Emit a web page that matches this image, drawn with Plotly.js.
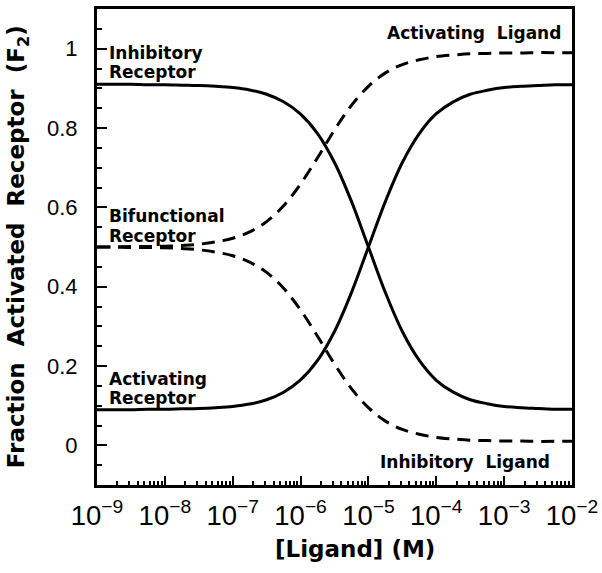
<!DOCTYPE html>
<html>
<head>
<meta charset="utf-8">
<script src="https://cdn.plot.ly/plotly-3.0.1.min.js"></script>
<style>html,body{margin:0;padding:0;background:#fff;}</style>
</head>
<body>
<div id="chart" style="width:602px;height:573px;"></div>
<script>
// Ligand concentration (M)
const ligandConc = [1e-9, 1.78e-9, 3.16e-9, 5.62e-9, 1e-8, 1.78e-8, 3.16e-8, 5.62e-8,
  1e-7, 1.78e-7, 3.16e-7, 5.62e-7, 1e-6, 1.78e-6, 3.16e-6, 5.62e-6,
  1e-5, 1.78e-5, 3.16e-5, 5.62e-5, 1e-4, 1.78e-4, 3.16e-4, 5.62e-4,
  1e-3, 1.78e-3, 3.16e-3, 5.62e-3, 1e-2];

// Solid curves
const activatingReceptor = [0.090,0.090,0.090,0.091,0.091,0.092,0.093,0.095,0.098,0.104,0.115,0.134,0.165,0.214,0.287,0.385,0.500,0.615,0.713,0.786,0.836,0.866,0.885,0.895,0.902,0.905,0.907,0.909,0.909];
const inhibitoryReceptor = [0.910,0.910,0.910,0.909,0.909,0.908,0.907,0.905,0.902,0.896,0.885,0.866,0.835,0.786,0.713,0.615,0.500,0.385,0.287,0.214,0.164,0.134,0.115,0.105,0.098,0.095,0.093,0.091,0.091];

// Dashed curves (bifunctional receptor)
const activatingLigand = [0.500,0.500,0.501,0.501,0.502,0.504,0.507,0.513,0.522,0.538,0.564,0.604,0.659,0.725,0.795,0.857,0.905,0.939,0.960,0.972,0.980,0.984,0.987,0.988,0.989,0.989,0.990,0.990,0.990];
const inhibitoryLigand = [0.500,0.500,0.499,0.499,0.498,0.496,0.493,0.487,0.478,0.462,0.436,0.396,0.341,0.275,0.205,0.143,0.095,0.061,0.040,0.028,0.020,0.016,0.013,0.012,0.011,0.011,0.010,0.010,0.010];

const yTickVals = [0, 0.2, 0.4, 0.6, 0.8, 1];

const solid = {color:'#000', width:3, shape:'spline', smoothing:1};
const dashed = {color:'#000', width:3, shape:'spline', smoothing:1, dash:'13px,8px'};

const traces = [
  {x: ligandConc, y: activatingLigand, mode:'lines', line: dashed, hoverinfo:'skip'},
  {x: ligandConc, y: inhibitoryLigand, mode:'lines', line: dashed, hoverinfo:'skip'},
  {x: ligandConc, y: inhibitoryReceptor, mode:'lines', line: solid, hoverinfo:'skip'},
  {x: ligandConc, y: activatingReceptor, mode:'lines', line: solid, hoverinfo:'skip'}
];

const lblFont = {family:'DejaVu Sans', size:17, color:'#000'};
function lbl(text, x, y, anchor) {
  return {text: '<b>'+text+'</b>', x: x, y: y, xref:'x', yref:'y', showarrow:false,
    xanchor: anchor, yanchor:'middle', font: lblFont};
}

const layout = {
  width: 602, height: 573,
  margin: {l:97, r:30, t:9, b:88},
  paper_bgcolor:'#fff', plot_bgcolor:'#fff',
  showlegend:false,
  font: {family:'Liberation Sans, Arial, sans-serif', color:'#000'},
  xaxis: {
    type:'log', range:[-9,-2], dtick:1, exponentformat:'power',
    showline:true, linewidth:3, linecolor:'#000', mirror:true,
    ticks:'inside', ticklen:9, tickwidth:2, tickcolor:'#000',
    ticklabelstandoff: 5,
    tickfont:{family:'Liberation Sans, Arial, sans-serif', size:22, color:'#000'},
    minor:{dtick:'D1', ticks:'inside', ticklen:4, tickwidth:2, tickcolor:'#000', showgrid:false},
    showgrid:false, zeroline:false
  },
  yaxis: {
    range:[-0.1,1.1], tickvals: yTickVals,
    showline:true, linewidth:3, linecolor:'#000', mirror:true,
    ticks:'inside', ticklen:10, tickwidth:2, tickcolor:'#000',
    ticklabelstandoff: 12,
    tickfont:{family:'Liberation Sans, Arial, sans-serif', size:22, color:'#000'},
    minor:{dtick:0.05, ticks:'inside', ticklen:5, tickwidth:2, tickcolor:'#000', showgrid:false},
    showgrid:false, zeroline:false
  },
  annotations: [
    lbl('Inhibitory', -8.85, 0.990, 'left'),
    lbl('Receptor', -8.85, 0.942, 'left'),
    lbl('Bifunctional', -8.85, 0.579, 'left'),
    lbl('Receptor', -8.85, 0.528, 'left'),
    lbl('Activating', -8.85, 0.168, 'left'),
    lbl('Receptor', -8.85, 0.120, 'left'),
    lbl('Activating  Ligand', -2.137, 1.040, 'right'),
    lbl('Inhibitory  Ligand', -2.299, -0.043, 'right'),
    {text:'<b>[Ligand] (M)</b>', xref:'paper', yref:'paper', x:0.543, y:-0.134,
     xanchor:'center', yanchor:'middle', showarrow:false,
     font:{family:'DejaVu Sans', size:23, color:'#000'}},
    {text:'<b>Fraction  Activated  Receptor  (F<sub>2</sub>)</b>', xref:'paper', yref:'paper',
     x:-0.166, y:0.5, xanchor:'center', yanchor:'middle', textangle:-90, showarrow:false,
     font:{family:'DejaVu Sans', size:23, color:'#000'}}
  ]
};

Plotly.newPlot('chart', traces, layout, {staticPlot:true, displayModeBar:false});
</script>
</body>
</html>
